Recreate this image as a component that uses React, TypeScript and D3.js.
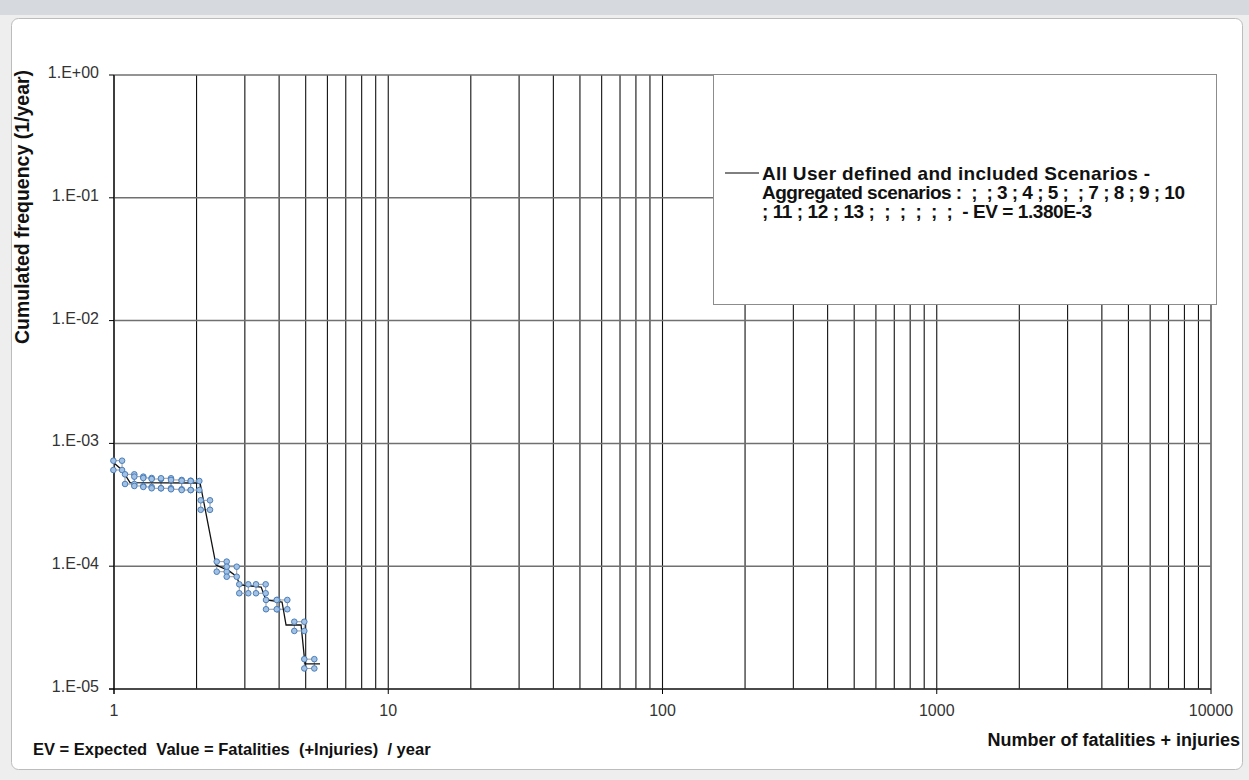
import React from "react";
import * as d3 from "d3";

// axis ticks
const xTickValues = [1, 10, 100, 1000, 10000];
const yTickValues = [1, 0.1, 0.01, 0.001, 0.0001, 0.00001];
const yTickLabels = ["1.E+00", "1.E-01", "1.E-02", "1.E-03", "1.E-04", "1.E-05"];

// cumulated F-N curve (black line)
const curveN = [1.0, 1.07, 1.144, 2.06, 2.355, 2.62, 2.79, 2.88, 3.44, 3.58, 4.1, 4.24, 4.81, 4.97, 5.64];
const curveF = [6.93e-4, 6.07e-4, 4.8e-4, 4.76e-4, 1.02e-4, 9.2e-5, 8.3e-5, 7.03e-5, 6.77e-5, 5.31e-5, 5.11e-5, 3.32e-5, 3.32e-5, 1.6e-5, 1.6e-5];

// scenario marker boxes (corner points)
const boxNLow = [0.995, 1.097, 1.186, 1.279, 1.372, 1.484, 1.614, 1.765, 1.904, 2.071, 2.369, 2.576, 2.863, 3.294, 3.583, 3.92, 4.544, 4.942];
const boxNHigh = [1.07, 1.186, 1.279, 1.372, 1.484, 1.614, 1.765, 1.904, 2.047, 2.239, 2.576, 2.802, 3.088, 3.573, 3.939, 4.285, 4.942, 5.376];
const boxFHigh = [7.23e-4, 5.6e-4, 5.36e-4, 5.23e-4, 5.13e-4, 5.2e-4, 5.04e-4, 4.97e-4, 4.94e-4, 3.44e-4, 1.09e-4, 9.91e-5, 7.12e-5, 7.12e-5, 5.31e-5, 5.31e-5, 3.53e-5, 1.75e-5];
const boxFLow = [6.07e-4, 4.67e-4, 4.5e-4, 4.42e-4, 4.31e-4, 4.31e-4, 4.23e-4, 4.17e-4, 4.17e-4, 2.88e-4, 9.02e-5, 8.21e-5, 6.02e-5, 6.02e-5, 4.46e-5, 4.46e-5, 2.97e-5, 1.47e-5];

const legendLines = [
  "All User defined and included Scenarios -",
  "Aggregated scenarios :  ;  ; 3 ; 4 ; 5 ;  ; 7 ; 8 ; 9 ; 10",
  "; 11 ; 12 ; 13 ;  ;  ;  ;  ;  ;  - EV = 1.380E-3",
];
// widths of the legend lines as set in the original
const legendWidths = [388, 423, 330];

const FONT = "'Liberation Sans', Arial, sans-serif";

export default function App() {
  const width = 1249;
  const height = 780;
  const plot = { left: 114, right: 1211, top: 75, bottom: 689 };

  const x = d3.scaleLog().domain([1, 10000]).range([plot.left, plot.right]);
  const y = d3.scaleLog().domain([1e-5, 1]).range([plot.bottom, plot.top]);

  const minorX = x.ticks();

  const line = d3
    .line<number>()
    .x((_, i) => x(curveN[i]))
    .y((d) => y(d));

  const markers: { n: number; f: number }[] = [];
  boxNLow.forEach((n0, i) => {
    [n0, boxNHigh[i]].forEach((n) =>
      [boxFHigh[i], boxFLow[i]].forEach((f) => markers.push({ n, f })),
    );
  });

  return (
    <svg
      width={width}
      height={height}
      style={{ position: "absolute", left: 0, top: 0, display: "block" }}
      fontFamily={FONT}
    >
      {/* window chrome */}
      <rect x={0} y={0} width={width} height={height} fill="#eeeeee" />
      <rect x={0} y={0} width={width} height={15} fill="#d6d9dd" />
      <rect x={11.5} y={18.5} width={1231} height={751} rx={7} fill="#ffffff" stroke="#bcbcbc" />

      {/* vertical grid */}
      {minorX.map((t, i) => (
        <line key={"vx" + i} x1={x(t)} x2={x(t)} y1={plot.top} y2={plot.bottom} stroke="#111" strokeWidth={1.1} />
      ))}
      {/* horizontal grid */}
      {yTickValues.map((t, i) => (
        <line key={"hy" + i} x1={plot.left} x2={plot.right} y1={y(t)} y2={y(t)} stroke="#707070" strokeWidth={1.5} />
      ))}

      {/* axes */}
      <line x1={plot.left} x2={plot.left} y1={plot.top} y2={plot.bottom + 5} stroke="#000" />
      <line x1={plot.left - 5} x2={plot.right} y1={plot.bottom} y2={plot.bottom} stroke="#000" />
      {yTickValues.map((t, i) => (
        <line key={"yt" + i} x1={plot.left - 5} x2={plot.left} y1={y(t)} y2={y(t)} stroke="#000" />
      ))}
      {xTickValues.map((t, i) => (
        <line key={"xt" + i} x1={x(t)} x2={x(t)} y1={plot.bottom} y2={plot.bottom + 5} stroke="#000" />
      ))}

      {/* tick labels */}
      {yTickValues.map((t, i) => (
        <text key={"yl" + i} x={99} y={y(t) + 3} textAnchor="end" fontSize={16} fill="#333">
          {yTickLabels[i]}
        </text>
      ))}
      {xTickValues.map((t, i) => (
        <text key={"xl" + i} x={x(t)} y={716} textAnchor="middle" fontSize={16} fill="#333">
          {t}
        </text>
      ))}

      {/* scenario boxes */}
      {boxNLow.map((n0, i) => (
        <rect
          key={"bx" + i}
          x={x(n0)}
          y={y(boxFHigh[i])}
          width={x(boxNHigh[i]) - x(n0)}
          height={y(boxFLow[i]) - y(boxFHigh[i])}
          fill="none"
          stroke="#9a9a9a"
          strokeWidth={1}
        />
      ))}

      {/* curve */}
      <path d={line(curveF) || ""} fill="none" stroke="#111" strokeWidth={1.3} />

      {markers.map((m, i) => (
        <circle key={"m" + i} cx={x(m.n)} cy={y(m.f)} r={2.8} fill="#a3c2e3" stroke="#4a7ebb" strokeWidth={1} />
      ))}

      {/* legend */}
      <rect x={713.5} y={74.5} width={503} height={230} fill="#fff" stroke="#8c8c8c" />
      <line x1={725} x2={759} y1={173} y2={173} stroke="#000" />
      {legendLines.map((s, i) => (
        <text
          key={"lg" + i}
          x={762}
          y={179.5 + i * 19}
          fontSize={19}
          fontWeight="bold"
          fill="#111"
          textLength={legendWidths[i]}
          lengthAdjust="spacing"
          style={{ whiteSpace: "pre" }}
        >
          {s}
        </text>
      ))}

      {/* titles */}
      <text
        transform="translate(29,207) rotate(-90)"
        textAnchor="middle"
        fontSize={19.5}
        fontWeight="bold"
        fill="#111"
      >
        Cumulated frequency (1/year)
      </text>
      <text x={1240} y={746} textAnchor="end" fontSize={18} fontWeight="bold" fill="#111">
        Number of fatalities + injuries
      </text>
      <text x={33} y={755} fontSize={16.5} fontWeight="bold" fill="#111" style={{ whiteSpace: "pre" }}>
        EV = Expected  Value = Fatalities  (+Injuries)  / year
      </text>
    </svg>
  );
}
